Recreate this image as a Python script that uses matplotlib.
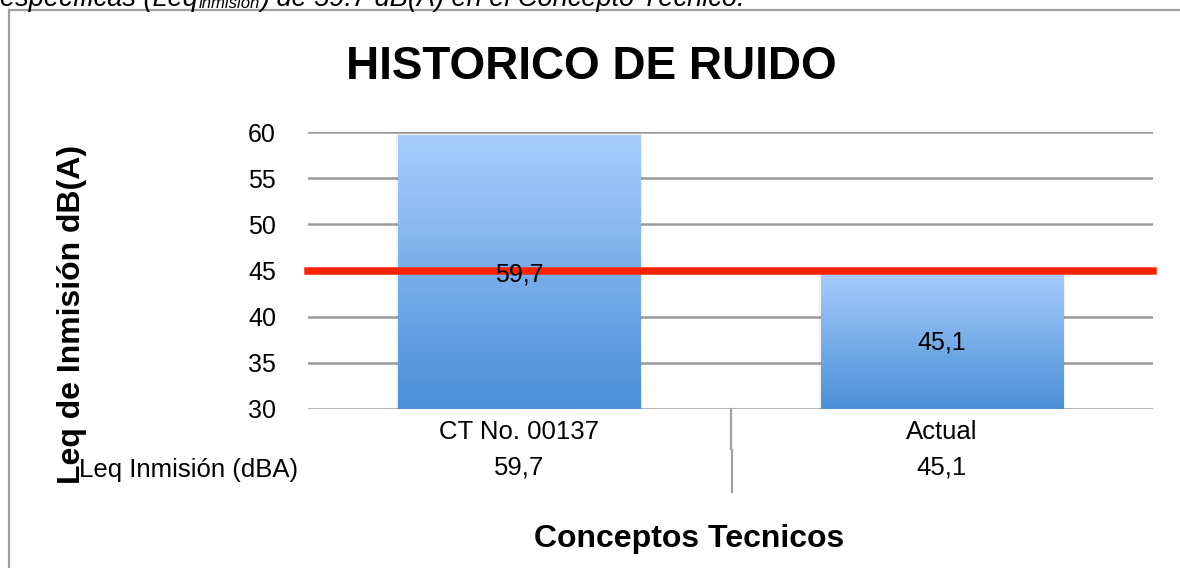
import numpy as np
import matplotlib
matplotlib.use("Agg")
import matplotlib.pyplot as plt
from matplotlib.lines import Line2D
from matplotlib.colors import LinearSegmentedColormap
from matplotlib.transforms import blended_transform_factory

plt.rcParams['font.family'] = ['Liberation Sans', 'DejaVu Sans']

categories = ['CT No. 00137', 'Actual']
values = [59.7, 45.1]
value_labels = ['59,7', '45,1']
row_label = 'Leq Inmisión (dBA)'
limit = 45
yticks = [30, 35, 40, 45, 50, 55, 60]

W, H = 1180, 568
fig = plt.figure(figsize=(W / 100, H / 100), dpi=100)
renderer = fig.canvas.get_renderer()


def fx(px):
    return px / W


def fy(py):
    return 1 - py / H


# frame of the chart box (cut off on the right and bottom)
fig.add_artist(Line2D([fx(9), fx(9)], [fy(10), 0], color='#a0a0a0', lw=1.6))
fig.add_artist(Line2D([fx(9), 1], [fy(10), fy(10)], color='#a0a0a0', lw=1.6))

# caption of the document, cut off at the top
pieces = [('específicas (Leq', 19.5, 6), ('inmisión', 12, 8),
          (') de 59.7 dB(A) en el Concepto Técnico.', 19.5, 6)]
xpos = 0
for s, size, base in pieces:
    t = fig.text(fx(xpos), fy(base), s, style='italic', fontsize=size, va='baseline')
    xpos = t.get_window_extent(renderer).x1 + 1

ax = fig.add_axes([fx(308), fy(409), fx(1153) - fx(308), fy(132) - fy(409)])
x = np.arange(len(categories))

for t in yticks:
    ax.axhline(t, color='#9a9a9a', lw=1.8, zorder=1)

cmap = LinearSegmentedColormap.from_list('bar', ['#4a8fd8', '#a9cefc'])
grad = np.linspace(0, 1, 256).reshape(-1, 1)
bars = ax.bar(x, values, width=0.573, color='none', zorder=2)
for b, v in zip(bars, values):
    x0 = b.get_x()
    w = b.get_width()
    # faint shadow
    ax.bar(x0 + w / 2, v - 29.9 + 0.2, width=w + 0.01, bottom=29.9,
           color='#000000', alpha=0.05, zorder=1.5)
    im = ax.imshow(grad, cmap=cmap, origin='lower', aspect='auto',
                   extent=(x0, x0 + w, 30, v), zorder=2)
    im.set_clip_path(b)

ax.axhline(limit, color='#ff2200', lw=5.4, zorder=3, clip_on=False)

for xi, v, lab in zip(x, values, value_labels):
    ax.text(xi, (v + 30) / 2 - 0.3, lab, ha='center', va='center', fontsize=18, zorder=4)

ax.set_xlim(-0.5, len(categories) - 0.5)
ax.set_ylim(30, 60)
ax.set_yticks(yticks)
ax.set_yticklabels([str(t) for t in yticks], fontsize=18)
ax.tick_params(axis='y', length=0, pad=23)
ax.set_xticks([])
for s in ax.spines.values():
    s.set_visible(False)

# data table below the axis
trans = blended_transform_factory(ax.transData, fig.transFigure)
for xi, cat, lab in zip(x, categories, value_labels):
    ax.text(xi, fy(432), cat, transform=trans, ha='center', va='center', fontsize=18.5)
    ax.text(xi, fy(468), lab, transform=trans, ha='center', va='center', fontsize=18.5)
fig.text(fx(298), fy(470), row_label, ha='right', va='center', fontsize=18.5)
fig.add_artist(Line2D([fx(731), fx(731)], [fy(409), fy(449)], color='#a0a0a0', lw=1.6))
fig.add_artist(Line2D([fx(732), fx(732)], [fy(450), fy(492)], color='#a0a0a0', lw=1.6))

fig.text(fx(591), fy(67), 'HISTORICO DE RUIDO', ha='center', va='center',
         fontsize=33, fontweight='bold')
fig.text(fx(689), fy(539), 'Conceptos Tecnicos', ha='center', va='center',
         fontsize=23, fontweight='bold')
fig.text(fx(72), fy(314), 'Leq de Inmisión dB(A)', ha='center', va='center',
         rotation=90, fontsize=23, fontweight='bold')

fig.savefig('out.png', dpi=100)
